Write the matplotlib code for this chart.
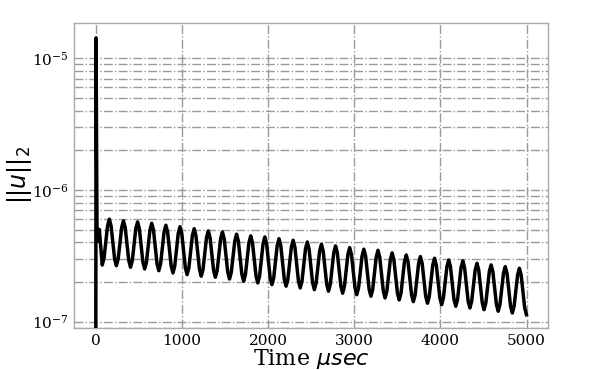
import numpy as np
import matplotlib
matplotlib.use("Agg")
import matplotlib.pyplot as plt

plt.rcParams['font.family'] = ['DejaVu Serif']

# ---- data ----
# initial transient: time (usec) and log10(||u||_2)
t_init = [0.0, 6.0, 17.0, 29.0, 44.0]
log_u_init = [-10.0, -4.846, -6.28, -6.39, -6.30]

# oscillating part, sampled every dt usec starting at t_osc_start
t_osc_start = 78.0
dt_osc = 20.5
log_u_osc = [
    -6.570, -6.519, -6.396, -6.273, -6.222, -6.274, -6.399, -6.523,
    -6.575, -6.525, -6.405, -6.285, -6.235, -6.287, -6.411, -6.535,
    -6.587, -6.537, -6.415, -6.293, -6.243, -6.295, -6.422, -6.548,
    -6.600, -6.549, -6.427, -6.304, -6.253, -6.306, -6.433, -6.560,
    -6.613, -6.562, -6.441, -6.319, -6.268, -6.321, -6.449, -6.577,
    -6.630, -6.579, -6.455, -6.330, -6.279, -6.332, -6.461, -6.590,
    -6.643, -6.592, -6.469, -6.345, -6.294, -6.347, -6.475, -6.602,
    -6.655, -6.605, -6.483, -6.361, -6.311, -6.363, -6.487, -6.611,
    -6.663, -6.613, -6.491, -6.369, -6.319, -6.371, -6.498, -6.624,
    -6.676, -6.626, -6.506, -6.386, -6.336, -6.388, -6.515, -6.641,
    -6.693, -6.643, -6.521, -6.399, -6.349, -6.401, -6.528, -6.654,
    -6.706, -6.655, -6.532, -6.408, -6.357, -6.410, -6.538, -6.666,
    -6.719, -6.668, -6.545, -6.421, -6.370, -6.423, -6.551, -6.678,
    -6.731, -6.680, -6.557, -6.433, -6.382, -6.435, -6.563, -6.691,
    -6.744, -6.693, -6.570, -6.446, -6.395, -6.448, -6.576, -6.704,
    -6.757, -6.706, -6.585, -6.463, -6.412, -6.464, -6.591, -6.717,
    -6.769, -6.719, -6.597, -6.475, -6.425, -6.478, -6.605, -6.731,
    -6.784, -6.733, -6.611, -6.489, -6.438, -6.490, -6.617, -6.743,
    -6.795, -6.744, -6.623, -6.501, -6.450, -6.502, -6.629, -6.755,
    -6.807, -6.756, -6.633, -6.509, -6.458, -6.511, -6.639, -6.767,
    -6.820, -6.770, -6.649, -6.528, -6.478, -6.530, -6.657, -6.783,
    -6.835, -6.785, -6.665, -6.544, -6.494, -6.546, -6.671, -6.796,
    -6.848, -6.798, -6.677, -6.556, -6.506, -6.558, -6.683, -6.808,
    -6.860, -6.810, -6.690, -6.569, -6.519, -6.571, -6.695, -6.819,
    -6.871, -6.821, -6.702, -6.582, -6.532, -6.583, -6.708, -6.832,
    -6.883, -6.833, -6.711, -6.589, -6.539, -6.591, -6.718, -6.844,
    -6.896, -6.846, -6.727, -6.607, -6.557, -6.609, -6.733, -6.857,
    -6.909, -6.859, -6.739, -6.619, -6.569, -6.621, -6.745, -6.869,
    -6.921, -6.871, -6.752, -6.632, -6.582, -6.634, -6.758, -6.882,
    -6.934, -6.884, -6.765, -6.645, -6.595, -6.647, -6.771, -6.895,
    -6.947,
]

x_ticks = [0, 1000, 2000, 3000, 4000, 5000]
y_limits = (8.95e-8, 1.85e-5)

# ---- build series ----
t_osc = t_osc_start + dt_osc * np.arange(len(log_u_osc))
t = np.concatenate([t_init, t_osc])
u = 10.0 ** np.concatenate([log_u_init, log_u_osc])

# ---- figure ----
fig = plt.figure(figsize=(5.98, 3.70), dpi=100)
ax = fig.add_axes([0.1237, 0.1135, 0.7927, 0.8243])

ax.plot(t, u, color='black', lw=2.5, solid_joinstyle='round', zorder=3)
ax.set_yscale('log')
ax.set_ylim(*y_limits)
ax.set_xticks(x_ticks)

ax.grid(True, which='both', axis='y', linestyle='-.', color='#9a9a9a', lw=1.0)
ax.grid(True, which='major', axis='x', linestyle='-.', color='#9a9a9a', lw=1.0)

for s in ax.spines.values():
    s.set_color('#aaaaaa')
    s.set_linewidth(1.0)

ax.tick_params(axis='both', which='both', length=0, labelsize=11, pad=4)

ax.set_xlabel(r'Time $\mu sec$', fontsize=16)
ax.set_ylabel(r'$||u||_2$', fontsize=17)
ax.xaxis.set_label_coords(0.5, -0.062)
ax.yaxis.set_label_coords(-0.084, 0.5)

fig.savefig('out.png', dpi=100)
